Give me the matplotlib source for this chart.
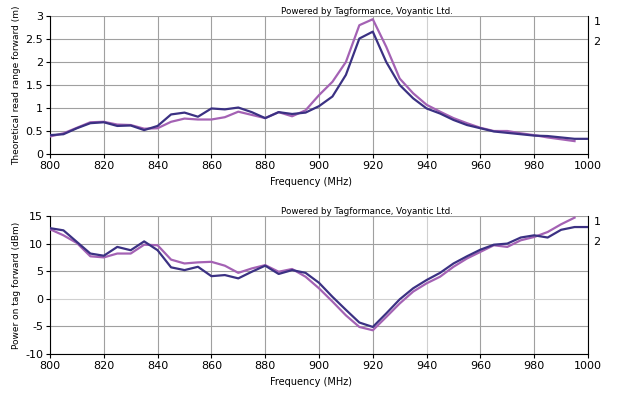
import numpy as np
import matplotlib
matplotlib.use('Agg')
from matplotlib import pyplot as plt

freq = np.arange(800, 1001, 5)

# theoretical read range (m)
range_1 = [0.38, 0.45, 0.57, 0.69, 0.70, 0.64, 0.63, 0.55, 0.56, 0.70,
           0.77, 0.75, 0.75, 0.80, 0.92, 0.85, 0.78, 0.91, 0.82, 0.95,
           1.28, 1.57, 2.00, 2.80, 2.93, 2.33, 1.64, 1.32, 1.07, 0.92,
           0.78, 0.67, 0.57, 0.50, 0.50, 0.45, 0.41, 0.36, 0.32, 0.28]
range_2 = [0.41, 0.43, 0.56, 0.67, 0.69, 0.61, 0.62, 0.52, 0.61, 0.86,
           0.90, 0.81, 0.99, 0.97, 1.01, 0.91, 0.78, 0.91, 0.87, 0.90,
           1.04, 1.25, 1.72, 2.51, 2.66, 2.00, 1.50, 1.21, 0.99, 0.88,
           0.74, 0.63, 0.56, 0.49, 0.46, 0.43, 0.40, 0.39, 0.36, 0.33, 0.33]

# power on tag (dBm)
power_1 = [12.6, 11.5, 10.1, 7.7, 7.5, 8.2, 8.2, 9.8, 9.7, 7.1,
           6.4, 6.6, 6.7, 6.0, 4.7, 5.5, 6.1, 4.9, 5.4, 4.0,
           1.9, -0.5, -3.0, -5.1, -5.7, -3.3, -0.85, 1.3, 2.8, 4.0,
           5.8, 7.3, 8.5, 9.7, 9.4, 10.6, 11.2, 12.1, 13.5, 14.7]
power_2 = [12.8, 12.4, 10.3, 8.2, 7.8, 9.4, 8.8, 10.4, 8.8, 5.7,
           5.2, 5.8, 4.1, 4.3, 3.7, 4.9, 6.0, 4.5, 5.2, 4.7,
           2.9, 0.36, -2.0, -4.3, -5.1, -2.65, -0.1, 1.9, 3.4, 4.7,
           6.4, 7.7, 8.9, 9.8, 10.0, 11.1, 11.5, 11.1, 12.5, 13.0, 13.0]

c1 = '#a462b4'
c2 = '#3b3183'

plt.rcParams['font.family'] = ['DejaVu Sans']

fig = plt.figure(figsize=(6.23, 3.97), dpi=100)
W, H = 623, 397
ax1 = fig.add_axes([50 / W, 1 - 154 / H, 538 / W, 138 / H])
ax2 = fig.add_axes([50 / W, 1 - 354 / H, 538 / W, 138 / H])

panels = [
    (ax1, range_1, range_2, (0, 3), np.arange(0, 3.01, 0.5),
     ['0', '0.5', '1', '1.5', '2', '2.5', '3'],
     'Theoretical read range forward (m)'),
    (ax2, power_1, power_2, (-10, 15), np.arange(-10, 16, 5),
     ['-10', '-5', '0', '5', '10', '15'],
     'Power on tag forward (dBm)'),
]

for ax, s1, s2, ylim, yt, ytl, ylab in panels:
    ax.plot(freq[:len(s1)], s1, color=c1, lw=1.6, zorder=3)
    ax.plot(freq[:len(s2)], s2, color=c2, lw=1.6, zorder=4)
    ax.set_xlim(800, 1000)
    ax.set_ylim(*ylim)
    ax.set_xticks(np.arange(800, 1001, 20))
    ax.set_yticks(yt)
    ax.set_yticklabels(ytl)
    ax.grid(True, color='#a0a0a0', lw=0.8)
    # lighter lines at 940 MHz and at 0 dBm
    for gl, v in zip(ax.get_xgridlines(), ax.get_xticks()):
        if v == 940:
            gl.set_color('#d0d0d0')
    if ylim[0] < 0:
        for gl, v in zip(ax.get_ygridlines(), ax.get_yticks()):
            if v == 0:
                gl.set_color('#d0d0d0')
    ax.tick_params(labelsize=8, length=3, width=0.8, pad=2)
    ax.set_xlabel('Frequency (MHz)', fontsize=7, labelpad=5)
    ax.xaxis.set_label_coords(0.485, -0.17)
    ax.set_ylabel(ylab, fontsize=6.5, labelpad=3)
    ax.spines['top'].set_visible(False)
    ax.spines['right'].set_color('black')
    for s in ['left', 'bottom', 'right']:
        ax.spines[s].set_linewidth(0.8)
    ax.text(0.43, 1.0, 'Powered by Tagformance, Voyantic Ltd.', transform=ax.transAxes,
            fontsize=6.3, ha='left', va='bottom')
    ax.text(1.01, 0.96, '1', transform=ax.transAxes, fontsize=8, va='center')
    ax.text(1.01, 0.81, '2', transform=ax.transAxes, fontsize=8, va='center')

fig.savefig('out.png', dpi=100)
